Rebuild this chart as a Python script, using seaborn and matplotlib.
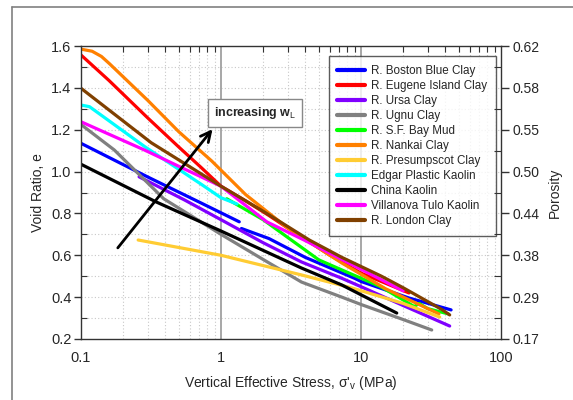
import numpy as np
import pandas as pd
import matplotlib
matplotlib.use("Agg")
import matplotlib.pyplot as plt
import seaborn as sns
from matplotlib.lines import Line2D
from matplotlib.ticker import FixedLocator, NullFormatter, FixedFormatter

sns.set_style("white")
plt.rcParams['font.family'] = ['Liberation Sans', 'DejaVu Sans']
plt.rcParams['mathtext.fontset'] = 'custom'
plt.rcParams['mathtext.rm'] = 'Liberation Sans'
plt.rcParams['mathtext.it'] = 'Liberation Sans:italic'
plt.rcParams['mathtext.bf'] = 'Liberation Sans:bold'

# ---------------- data (stress in MPa, void ratio e) ----------------
boston_a_s = [0.1, 0.3, 0.7, 1.35]
boston_a_e = [1.135, 0.974, 0.854, 0.76]
boston_b_s = [1.4, 2.2, 4.0, 9.0, 10.0, 22.0, 44.0]
boston_b_e = [0.728, 0.68, 0.59, 0.49, 0.475, 0.396, 0.339]

eugene_s = [0.1, 0.158, 0.3, 0.5, 0.72, 1.0, 1.5, 2.2, 3.0, 6.0, 10.0, 22.0]
eugene_e = [1.557, 1.436, 1.256, 1.117, 1.02, 0.93, 0.86, 0.79, 0.73, 0.60, 0.515, 0.42]

ursa_s = [0.26, 0.55, 1.0, 2.0, 3.76, 7.3, 10.0, 20.0, 43.0]
ursa_e = [0.975, 0.864, 0.77, 0.66, 0.568, 0.49, 0.45, 0.36, 0.262]

ugnu_s = [0.1, 0.173, 0.39, 1.0, 2.0, 3.76, 7.3, 10.0, 20.0, 32.0]
ugnu_e = [1.225, 1.103, 0.87, 0.70, 0.58, 0.472, 0.40, 0.365, 0.293, 0.243]

sfbay_s = [1.1, 2.0, 5.0, 7.3, 14.0, 24.0, 26.0, 30.0, 42.0]
sfbay_e = [0.87, 0.77, 0.578, 0.53, 0.448, 0.355, 0.37, 0.345, 0.32]

nankai_s = [0.1, 0.12, 0.14, 0.16, 0.3, 0.5, 0.86, 1.5, 3.0, 7.3, 15.0, 36.0]
nankai_e = [1.585, 1.575, 1.55, 1.515, 1.34, 1.19, 1.05, 0.89, 0.73, 0.563, 0.44, 0.32]

presumpscot_s = [0.256, 1.0, 3.76, 8.6, 20.0, 36.5]
presumpscot_e = [0.673, 0.60, 0.506, 0.444, 0.37, 0.305]

edgar_s = [0.1, 0.115, 0.284, 0.72, 1.0, 1.3]
edgar_e = [1.318, 1.31, 1.12, 0.94, 0.875, 0.845]

china_s = [0.1, 0.344, 1.0, 3.76, 7.3, 18.0]
china_e = [1.035, 0.855, 0.716, 0.539, 0.458, 0.324]

villanova_s = [0.1, 0.284, 0.6, 1.0, 2.12, 4.0, 7.3, 20.0]
villanova_e = [1.238, 1.103, 1.0, 0.93, 0.76, 0.67, 0.58, 0.43]

london_s = [0.1, 0.317, 1.0, 1.94, 4.3, 4.5, 7.3, 14.0, 20.0, 38.0, 43.0]
london_e = [1.398, 1.138, 0.93, 0.816, 0.672, 0.665, 0.59, 0.50, 0.445, 0.34, 0.315]

clay_names = ["R. Boston Blue Clay", "R. Eugene Island Clay", "R. Ursa Clay",
              "R. Ugnu Clay", "R. S.F. Bay Mud", "R. Nankai Clay",
              "R. Presumpscot Clay", "Edgar Plastic Kaolin", "China Kaolin",
              "Villanova Tulo Kaolin", "R. London Clay"]
clay_colors = ["#0000ff", "#ff0000", "#8000ff", "#808080", "#00ff00", "#ff8000",
               "#ffcc33", "#00ffff", "#000000", "#ff00ff", "#804000"]
clay_segments = [
    [(boston_a_s, boston_a_e), (boston_b_s, boston_b_e)],
    [(eugene_s, eugene_e)],
    [(ursa_s, ursa_e)],
    [(ugnu_s, ugnu_e)],
    [(sfbay_s, sfbay_e)],
    [(nankai_s, nankai_e)],
    [(presumpscot_s, presumpscot_e)],
    [(edgar_s, edgar_e)],
    [(china_s, china_e)],
    [(villanova_s, villanova_e)],
    [(london_s, london_e)],
]

void_ticks = [0.2, 0.4, 0.6, 0.8, 1.0, 1.2, 1.4, 1.6]
porosity_labels = ["0.17", "0.29", "0.38", "0.44", "0.50", "0.55", "0.58", "0.62"]
x_ticks = [0.1, 1, 10, 100]
x_tick_labels = ["0.1", "1", "10", "100"]

# ---------------- build long table ----------------
rows = []
for name, segs in zip(clay_names, clay_segments):
    for k, (s, e) in enumerate(segs):
        for si, ei in zip(s, e):
            rows.append({"clay": name, "seg": k, "stress": si, "e": ei})
df = pd.DataFrame(rows)

# ---------------- figure ----------------
fig = plt.figure(figsize=(5.73, 4.0), dpi=100)
ax = fig.add_axes([81/573, 1-339/400, 420/573, 293/400])
ax.set_xscale("log")
ax.set_xlim(0.1, 100)
ax.set_ylim(0.2, 1.6)

# grid
minor_x = [m * 10.0**d for d in (-1, 0, 1) for m in range(2, 10)]
for xv in minor_x:
    ax.axvline(xv, color="#c8c8c8", lw=0.8, ls=(0, (1, 2)), zorder=0)
for yv in np.arange(0.3, 1.6, 0.1):
    ax.axhline(yv, color="#c8c8c8", lw=0.8, ls=(0, (1, 2)), zorder=0)
for xv in [1, 10]:
    ax.axvline(xv, color="#a0a0a0", lw=1.3, zorder=0.5)

for name, color in zip(clay_names, clay_colors):
    sub = df[df["clay"] == name]
    for k in sub["seg"].unique():
        seg = sub[sub["seg"] == k]
        sns.lineplot(data=seg, x="stress", y="e", color=color, lw=2.3,
                     sort=False, estimator=None, ax=ax, legend=False)

ax.set_xlabel("Vertical Effective Stress, σ'$_\\mathrm{v}$ (MPa)", fontsize=10, labelpad=6)
ax.set_ylabel("Void Ratio, e", fontsize=10, labelpad=4)

ax.xaxis.set_major_locator(FixedLocator(x_ticks))
ax.xaxis.set_major_formatter(FixedFormatter(x_tick_labels))
ax.xaxis.set_minor_locator(FixedLocator(minor_x))
ax.xaxis.set_minor_formatter(NullFormatter())
ax.yaxis.set_major_locator(FixedLocator(void_ticks))
ax.yaxis.set_minor_locator(FixedLocator(list(np.arange(0.3, 1.6, 0.2))))
ax.tick_params(axis="both", which="major", direction="out", length=5, width=1,
               labelsize=10.5, color="#333333", pad=2)
ax.tick_params(axis="x", which="major", pad=4)
ax.tick_params(axis="both", which="minor", direction="in", length=4, width=0.8,
               color="#333333")
ax.tick_params(axis="x", which="minor", top=True)
for sp in ax.spines.values():
    sp.set_color("#333333")
    sp.set_linewidth(1.0)

# right porosity axis
ax2 = ax.twinx()
ax2.set_ylim(ax.get_ylim())
ax2.yaxis.set_major_locator(FixedLocator(void_ticks))
ax2.yaxis.set_major_formatter(FixedFormatter(porosity_labels))
ax2.yaxis.set_minor_locator(FixedLocator(list(np.arange(0.3, 1.6, 0.2))))
ax2.tick_params(axis="y", which="major", direction="out", length=6, width=1,
                labelsize=10, color="#333333", pad=2)
ax2.tick_params(axis="y", which="minor", direction="in", length=5, width=0.8,
                color="#333333")
ax2.set_ylabel("Porosity", fontsize=10, labelpad=6)
for sp in ax2.spines.values():
    sp.set_visible(False)

# legend
handles = [Line2D([0], [0], color=c, lw=3) for c in clay_colors]
leg = ax.legend(handles, clay_names, loc="upper right", bbox_to_anchor=(0.988, 0.966),
                borderaxespad=0, fontsize=8.4, frameon=True, fancybox=False,
                edgecolor="#333333", handlelength=2.4, handletextpad=0.5,
                labelspacing=0.26, borderpad=0.75)
leg.get_frame().set_linewidth(1.0)

# annotation arrow and label
ax.annotate("", xy=(0.895, 1.213), xytext=(0.178, 0.625),
            arrowprops=dict(arrowstyle="->", lw=2, color="black", mutation_scale=18))
ax.text(1.746, 1.28, "increasing w$_\\mathrm{L}$", fontsize=9, fontweight="bold",
        ha="center", va="center",
        bbox=dict(boxstyle="square,pad=0.45", fc="white", ec="#888888", lw=1))

# outer frame
fig.add_artist(Line2D([12/573, 1], [1-7/400, 1-7/400], color="#808080", lw=1.2,
                      transform=fig.transFigure))
fig.add_artist(Line2D([12/573, 12/573], [0, 1-7/400], color="#808080", lw=1.2,
                      transform=fig.transFigure))

fig.savefig("out.png", dpi=100)
